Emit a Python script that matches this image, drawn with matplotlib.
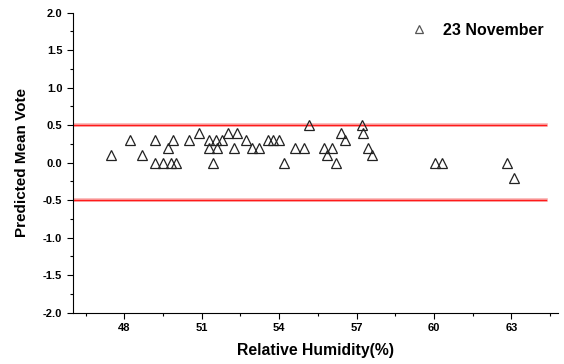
import matplotlib.pyplot as plt
from matplotlib.ticker import MultipleLocator, FormatStrFormatter

plt.rcParams['font.family'] = ['Liberation Sans', 'DejaVu Sans']
plt.rcParams['font.weight'] = 'bold'

# readings for 23 November
humidity = [47.5, 48.2, 48.7, 49.2, 49.2, 49.5, 49.7, 49.9, 49.8, 50.0,
            50.5, 50.9, 51.3, 51.3, 51.45, 51.55, 51.6, 51.8, 52.0, 52.25,
            52.35, 52.7, 52.95, 53.2, 53.55, 53.75, 54.0, 54.2, 54.6, 54.95,
            55.15, 55.75, 56.05, 55.85, 56.2, 56.4, 56.55, 57.2, 57.25, 57.45,
            57.6, 60.05, 60.3, 62.85, 63.1]
pmv = [0.1, 0.3, 0.1, 0.3, 0.0, 0.0, 0.2, 0.3, 0.0, 0.0,
       0.3, 0.4, 0.3, 0.2, 0.0, 0.3, 0.2, 0.3, 0.4, 0.2,
       0.4, 0.3, 0.2, 0.2, 0.3, 0.3, 0.3, 0.0, 0.2, 0.2,
       0.5, 0.2, 0.2, 0.1, 0.0, 0.4, 0.3, 0.5, 0.4, 0.2,
       0.1, 0.0, 0.0, 0.0, -0.2]
limits = [0.5, -0.5]

fig = plt.figure(figsize=(5.64, 3.64), dpi=100)
ax = fig.add_axes([0.129, 0.141, 0.86, 0.824])

for lim in limits:
    ax.axhline(lim, xmax=0.975, color='#f9b0b0', linewidth=2.6, zorder=1)
    ax.axhline(lim, xmax=0.975, color='#ff1a1a', linewidth=1, zorder=2)

ax.plot(humidity, pmv, linestyle='none', marker='^', markersize=7,
        markerfacecolor='none', markeredgecolor='#222222', markeredgewidth=0.9,
        label='23 November', zorder=3)

ax.set_xlim(46, 64.8)
ax.set_ylim(-2.0, 2.0)
ax.xaxis.set_major_locator(MultipleLocator(3))
ax.xaxis.set_minor_locator(MultipleLocator(1.5))
ax.yaxis.set_major_locator(MultipleLocator(0.5))
ax.yaxis.set_minor_locator(MultipleLocator(0.25))
ax.yaxis.set_major_formatter(FormatStrFormatter('%.1f'))
ax.tick_params(which='major', direction='out', length=4, width=0.8, labelsize=8)
ax.tick_params(which='minor', direction='out', length=2.5, width=0.8)
for s in ['top', 'right']:
    ax.spines[s].set_visible(False)

ax.set_xlabel('Relative Humidity(%)', fontsize=11.3, fontweight='bold', labelpad=7)
ax.set_ylabel('Predicted Mean Vote', fontsize=11, fontweight='bold', labelpad=10)

leg = ax.legend(loc='upper right', frameon=False, fontsize=11.5, markerscale=0.85,
                handletextpad=0.8, handlelength=1.4, bbox_to_anchor=(1.0, 1.015))
leg.get_lines()[0].set_markeredgecolor('#555555')

plt.savefig('out.png', dpi=100)
